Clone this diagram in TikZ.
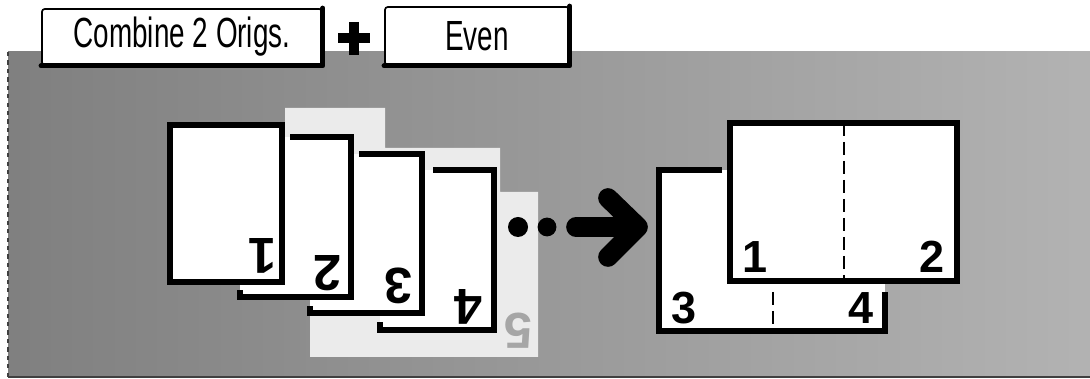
\documentclass[tikz,border=0pt]{standalone}
\usepackage{fontspec}
\setmainfont{Liberation Sans}
\newfontfamily\lcdfont[FakeStretch=0.66]{Liberation Sans}
\usepackage{tikz}
\tikzset{
  btn/.style={rectangle, rounded corners=2pt, draw=black, line width=1.2pt, fill=white,
              inner sep=0pt, font=\lcdfont\fontsize{30}{32}\selectfont},
  btnshadow/.style={line width=3.6pt, line cap=round, line join=round},
  plusbar/.style={line width=6.5pt},
  pageline/.style={line width=3.9pt},
  fold/.style={line width=1.9pt, dash pattern=on 9pt off 4.5pt},
  pnum/.style={inner sep=0pt, font=\bfseries\fontsize{36}{36}\selectfont},
  pnumup/.style={pnum, rotate=180},
  pnumr/.style={inner sep=0pt, font=\bfseries\fontsize{32}{32}\selectfont},
  dot/.style={circle, fill=black, inner sep=0pt, minimum size=0.5cm},
  bigarrow/.style={line width=14pt, line cap=round, line join=round},
}
\begin{document}
\begin{tikzpicture}[x=0.025cm, y=-0.025cm]
  \useasboundingbox (0,0) rectangle (1090,379);

  % Background panel
  \shade[left color=black!50, right color=black!30] (8,52) rectangle (1090,377);
  \fill[black!8] (285,108) -- (385,108) -- (385,148) -- (500,148) -- (500,192)
    -- (538,192) -- (538,357) -- (310,357) -- (310,300) -- (285,300) -- cycle;
  \draw[black!75, dashed, line width=0.8pt] (8,52) -- (8,377);
  \draw[black!75, line width=0.8pt] (8,377) -- (1090,377);

  % Buttons
  \node[btn, minimum width=7.0cm, minimum height=1.4cm] (comb) at (182,37) {Combine 2 Origs.};
  \draw[btnshadow] (comb.north east) |- (comb.south west);
  \node[btn, minimum width=4.6cm, minimum height=1.45cm] (even) at (477,36) {Even};
  \draw[btnshadow] (even.north east) |- (even.south west);
  \coordinate (plus) at (354,38);
  \draw[plusbar] (338,38) -- (370,38);
  \draw[plusbar] (354,22) -- (354,55);

  % Originals (face down)
  \node[pnumup, text=black!35] (p5) at (518,331) {5};
  \fill[white] (380,170) rectangle (494,330);
  \draw[pageline] (433,170) -| (494,330) -| (380,322);
  \fill[white] (310,154) rectangle (422,313);
  \draw[pageline] (359,154) -| (422,313) -| (310,306);
  \fill[white] (240,137) rectangle (351,297);
  \draw[pageline] (290,137) -| (351,297) -| (240,290);
  \draw[pageline, fill=white] (170,125) rectangle (282,282);
  \node[pnumup] (n1) at (262,256) {1};
  \node[pnumup] (n2) at (327,273) {2};
  \node[pnumup] (n3) at (398,286) {3};
  \node[pnumup] (n4) at (468,307) {4};

  % Dots and arrow
  \node[dot] (dot1) at (518,227) {};
  \node[dot, minimum size=0.47cm] (dot2) at (547,227) {};
  \draw[bigarrow] (576,227) -- (636,227);
  \draw[bigarrow] (608,198) -- (638,227) -- (608,257);

  % Copies
  \fill[white] (659,170) rectangle (885,331);
  \draw[pageline] (722,170) -| (659,331) -| (885,292);
  \draw[fold] (773,292) -- (773,331);
  \draw[pageline, fill=white] (730,123) rectangle (957,281);
  \draw[fold] (844,123) -- (844,281);
  \node[pnumr] (c1) at (755,257) {1};
  \node[pnumr] (c2) at (932,257) {2};
  \node[pnumr] (c3) at (684,308) {3};
  \node[pnumr] (c4) at (861,308) {4};
\end{tikzpicture}
\end{document}
